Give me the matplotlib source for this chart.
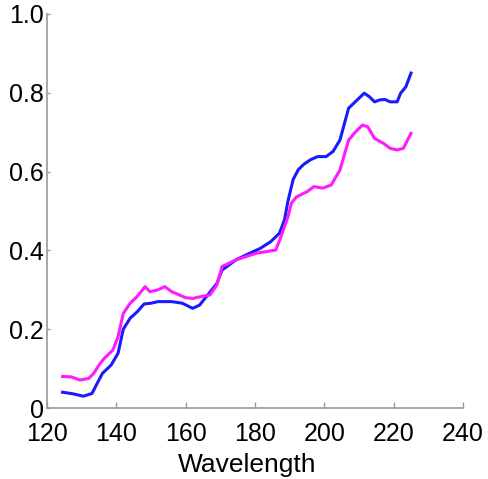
import matplotlib.pyplot as plt

plt.rcParams['font.family'] = ['Liberation Sans', 'DejaVu Sans']

# blue spectrum
wl_blue = [124.5, 127.5, 130.5, 133, 134.5, 136, 138.5, 140.5, 142, 144, 146, 148,
           150, 152, 156, 159, 162, 164, 166, 169, 170.5, 174.5, 178.5, 181.5,
           184.5, 187, 188.5, 189.5, 191, 192.5, 194, 196, 198, 200.5, 202.5,
           204.5, 207, 209.5, 211.5, 213, 214.5, 216, 217.5, 219, 221, 222,
           223.5, 225]
val_blue = [0.040, 0.036, 0.030, 0.037, 0.063, 0.088, 0.109, 0.139, 0.200, 0.228,
            0.244, 0.264, 0.266, 0.270, 0.270, 0.266, 0.253, 0.261, 0.283, 0.316,
            0.350, 0.376, 0.393, 0.405, 0.422, 0.443, 0.477, 0.525, 0.580, 0.605,
            0.618, 0.630, 0.638, 0.638, 0.651, 0.680, 0.761, 0.782, 0.799, 0.790,
            0.777, 0.782, 0.783, 0.777, 0.777, 0.799, 0.815, 0.850]

# magenta spectrum
wl_mag = [124.5, 127, 129.5, 132, 133.5, 135, 136.5, 139, 140.5, 142, 144, 146,
          148.3, 149.7, 152, 154, 156, 160, 162, 164, 167, 169, 170.5, 174.5,
          180.5, 186, 187.5, 189.5, 190.5, 192, 195, 197, 199.5, 202, 204.5,
          207, 209, 211, 212.5, 214.5, 217, 219, 221, 222.8, 224, 225]
val_mag = [0.080, 0.079, 0.071, 0.075, 0.088, 0.109, 0.126, 0.147, 0.181, 0.240,
           0.266, 0.283, 0.308, 0.295, 0.300, 0.308, 0.295, 0.280, 0.278, 0.282,
           0.287, 0.312, 0.359, 0.376, 0.393, 0.401, 0.435, 0.485, 0.520, 0.536,
           0.549, 0.562, 0.558, 0.566, 0.604, 0.680, 0.701, 0.718, 0.714, 0.684,
           0.672, 0.659, 0.655, 0.659, 0.680, 0.697]

xticks = [120, 140, 160, 180, 200, 220, 240]
yticks = [0, 0.2, 0.4, 0.6, 0.8, 1.0]
ylabels = ['0', '0.2', '0.4', '0.6', '0.8', '1.0']

fig = plt.figure(figsize=(4.88, 4.79), dpi=100)
ax = fig.add_axes([0.0963, 0.1482, 0.8525, 0.8226])

ax.plot(wl_blue, val_blue, color='#1a1aff', lw=2.2)
ax.plot(wl_mag, val_mag, color='#ff1aff', lw=2.2)

ax.set_xlim(120, 240)
ax.set_ylim(0, 1.0)
ax.set_xticks(xticks)
ax.set_yticks(yticks)
ax.set_yticklabels(ylabels)

for s in ['top', 'right']:
    ax.spines[s].set_visible(False)
for s in ['left', 'bottom']:
    ax.spines[s].set_color('#9a9a9a')
    ax.spines[s].set_linewidth(1.2)

ax.tick_params(axis='x', direction='in', length=4, width=1, color='#9a9a9a',
               labelsize=18, pad=10)
ax.tick_params(axis='y', direction='in', length=2, width=1, color='#9a9a9a',
               labelsize=18, pad=2.5)
ax.set_xlabel('Wavelength', fontsize=19)
ax.xaxis.set_label_coords(0.481, -0.115)

fig.savefig('out.png', dpi=100)
